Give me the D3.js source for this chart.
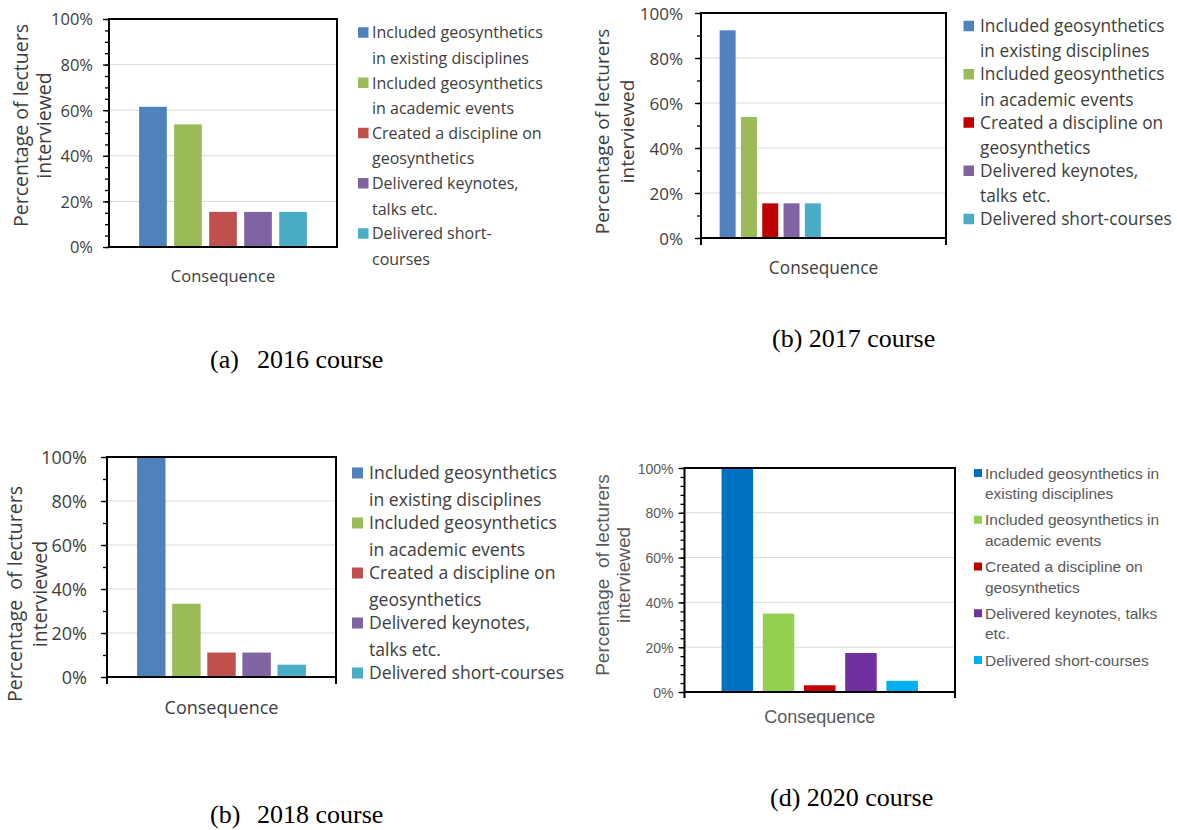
<!DOCTYPE html>
<html>
<head>
<meta charset="utf-8">
<script src="https://cdn.jsdelivr.net/npm/d3@7"></script>
<style>
  html, body { margin: 0; padding: 0; background: #ffffff; }
  svg { display: block; }
</style>
</head>
<body>
<svg id="chart" width="1177" height="830"></svg>
<script>
// ---- data -------------------------------------------------------------
const seriesNames = [
  "Included geosynthetics in existing disciplines",
  "Included geosynthetics in academic events",
  "Created a discipline on geosynthetics",
  "Delivered keynotes, talks etc.",
  "Delivered short-courses"
];

// percentage of lecturers interviewed, one value per series
const values2016 = [61.5, 53.8, 15.4, 15.4, 15.4];
const values2017 = [92.3, 53.8, 15.4, 15.4, 15.4];
const values2018 = [100, 33.3, 11.1, 11.1, 5.6];
const values2020 = [100, 35, 3, 17.4, 5];

const yTicks = [0, 20, 40, 60, 80, 100];
const categoryLabel = "Consequence";

// legend text, already wrapped line by line
const legendWrapA = [
  ["Included geosynthetics", "in existing disciplines"],
  ["Included geosynthetics", "in academic events"],
  ["Created a discipline on", "geosynthetics"],
  ["Delivered keynotes,", "talks etc."],
  ["Delivered short-", "courses"]
];
const legendWrapB = [
  ["Included geosynthetics", "in existing disciplines"],
  ["Included geosynthetics", "in academic events"],
  ["Created a discipline on", "geosynthetics"],
  ["Delivered keynotes,", "talks etc."],
  ["Delivered short-courses"]
];
const legendWrapD = [
  ["Included geosynthetics in", "existing disciplines"],
  ["Included geosynthetics in", "academic events"],
  ["Created a discipline on", "geosynthetics"],
  ["Delivered keynotes, talks", "etc."],
  ["Delivered short-courses"]
];

const yTitle2016 = ["Percentage of lectuers", "interviewed"];
const yTitle2017 = ["Percentage of lecturers", "interviewed"];
const yTitle2018 = ["Percentage  of lecturers", "interviewed"];
const yTitle2020 = ["Percentage  of lecturers", "interviewed"];

const captions = [
  ["(a)", "2016 course"],
  ["(b) 2017 course"],
  ["(b)", "2018 course"],
  ["(d) 2020 course"]
];

// ---- colours ----------------------------------------------------------
const paletteOffice = ["#4F81BD", "#9BBB59", "#C0504D", "#8064A2", "#4BACC6"];
const paletteOffice2 = ["#4F81BD", "#9BBB59", "#C00000", "#8064A2", "#4BACC6"];
const paletteStandard = ["#0070C0", "#92D050", "#C00000", "#7030A0", "#00B0F0"];

// ---- panel layout -----------------------------------------------------
const panels = [
  {
    values: values2016, colors: paletteOffice, legend: legendWrapA, title: yTitle2016, caption: captions[0],
    plot: { x0: 109, x1: 337, y0: 19, y1: 247 }, slots: 5, padInner: 0.21, padOuter: 0.86,
    minorStep: 5, frameExt: 0, font: "'Open Sans', sans-serif", ink: "#3d3d3d",
    tickSize: 16.5, tickGap: 16,
    titleSize: 19.5, titleX: [28, 50.5], titleY: 125.5,
    xlabSize: 16.5, xlabY: 282,
    leg: { sqX: 358, sq: 10.5, textX: 372, size: 16, y0: 32.5, itemStep: 50.25, lineStep: 25.6 },
    cap: { x: 210, x2: 257, y: 368 }
  },
  {
    values: values2017, colors: paletteOffice2, legend: legendWrapB, title: yTitle2017, caption: captions[1],
    plot: { x0: 701, x1: 946, y0: 13, y1: 238 }, slots: 10, padInner: 0.25, padOuter: 0.875,
    minorStep: 10, frameExt: 7, font: "'Open Sans', sans-serif", ink: "#3d3d3d",
    tickSize: 17, tickGap: 18,
    titleSize: 19, titleX: [609, 634], titleY: 131.5,
    xlabSize: 17.3, xlabY: 274,
    leg: { sqX: 963.5, sq: 10.5, textX: 980, size: 17.3, y0: 26, itemStep: 48.25, lineStep: 25.2 },
    cap: { x: 772, y: 347 }
  },
  {
    values: values2018, colors: paletteOffice, legend: legendWrapB, title: yTitle2018, caption: captions[2],
    plot: { x0: 107, x1: 336, y0: 457, y1: 677 }, slots: 5, padInner: 0.19, padOuter: 0.857,
    minorStep: 10, frameExt: 7, font: "'Open Sans', sans-serif", ink: "#3d3d3d",
    tickSize: 18, tickGap: 20,
    titleSize: 19.5, titleX: [22, 46.5], titleY: 594,
    xlabSize: 18, xlabY: 714,
    leg: { sqX: 352, sq: 11, textX: 369, size: 17.6, y0: 473, itemStep: 50, lineStep: 26.5 },
    cap: { x: 210, x2: 257, y: 823 }
  },
  {
    values: values2020, colors: paletteStandard, legend: legendWrapD, title: yTitle2020, caption: captions[3],
    plot: { x0: 684.5, x1: 955, y0: 468, y1: 692 }, slots: 5, padInner: 0.235, padOuter: 0.9,
    minorStep: 4, frameExt: 6, font: "'Liberation Sans', Arial, sans-serif", ink: "#595959",
    tickSize: 14, tickGap: 11,
    titleSize: 19, titleX: [609, 630], titleY: 575,
    xlabSize: 18, xlabY: 723,
    leg: { sqX: 974, sq: 8, textX: 985, size: 15.5, y0: 473, itemStep: 46.75, lineStep: 20.5 },
    cap: { x: 770, y: 806 }
  }
];

const svg = d3.select("#chart");
const pct = d => d + "%";

panels.forEach(p => {
  const g = svg.append("g");
  const { x0, x1, y0, y1 } = p.plot;

  const y = d3.scaleLinear().domain([0, 100]).range([y1, y0]);
  const x = d3.scaleBand()
    .domain(d3.range(p.slots))
    .range([x0, x1])
    .paddingInner(p.padInner)
    .paddingOuter(p.padOuter);

  // horizontal gridlines
  g.append("g")
    .selectAll("line")
    .data(yTicks.filter(t => t > 0 && t < 100))
    .join("line")
    .attr("x1", x0).attr("x2", x1)
    .attr("y1", d => y(d)).attr("y2", d => y(d))
    .attr("stroke", "#d9d9d9").attr("stroke-width", 1);

  // minor ticks
  const minor = g.append("g")
    .attr("transform", `translate(${x0},0)`)
    .call(d3.axisLeft(y).tickValues(d3.range(0, 100 + 1e-9, p.minorStep)).tickSize(4).tickFormat(""));
  minor.select(".domain").remove();
  minor.selectAll("line").attr("stroke", "#000").attr("stroke-width", 1.3);

  // major ticks and labels
  const major = g.append("g")
    .attr("transform", `translate(${x0},0)`)
    .call(d3.axisLeft(y).tickValues(yTicks).tickSize(6).tickPadding(p.tickGap - 6).tickFormat(pct));
  major.select(".domain").remove();
  major.selectAll("line").attr("stroke", "#000").attr("stroke-width", 1.3);
  major.selectAll("text")
    .attr("font-family", p.font)
    .attr("font-size", p.tickSize)
    .attr("fill", p.ink)
    .attr("dy", "0.36em");

  // bars
  g.append("g")
    .selectAll("rect")
    .data(p.values)
    .join("rect")
    .attr("x", (d, i) => x(i))
    .attr("width", x.bandwidth())
    .attr("y", d => y(d))
    .attr("height", d => y(0) - y(d))
    .attr("fill", (d, i) => p.colors[i]);

  // plot frame
  g.append("rect")
    .attr("x", x0).attr("y", y0)
    .attr("width", x1 - x0).attr("height", y1 - y0)
    .attr("fill", "none").attr("stroke", "#000").attr("stroke-width", 2);
  if (p.frameExt > 0) {
    g.append("g").selectAll("line")
      .data([x0, x1])
      .join("line")
      .attr("x1", d => d).attr("x2", d => d)
      .attr("y1", y1).attr("y2", y1 + p.frameExt)
      .attr("stroke", "#000").attr("stroke-width", 2);
  }

  // y axis title (two rotated lines)
  g.append("g").selectAll("text")
    .data(p.title)
    .join("text")
    .attr("transform", (d, i) => `translate(${p.titleX[i]},${p.titleY}) rotate(-90)`)
    .attr("text-anchor", "middle")
    .attr("font-family", p.font)
    .attr("font-size", p.titleSize)
    .attr("fill", p.ink)
    .style("white-space", "pre")
    .text(d => d);

  // category label
  g.append("text")
    .attr("x", (x0 + x1) / 2)
    .attr("y", p.xlabY)
    .attr("text-anchor", "middle")
    .attr("font-family", p.font)
    .attr("font-size", p.xlabSize)
    .attr("fill", p.ink)
    .text(categoryLabel);

  // legend
  const L = p.leg;
  const items = g.append("g").selectAll("g")
    .data(p.legend)
    .join("g")
    .attr("transform", (d, i) => `translate(0,${L.y0 + i * L.itemStep})`);
  items.append("rect")
    .attr("x", L.sqX).attr("y", -L.sq / 2)
    .attr("width", L.sq).attr("height", L.sq)
    .attr("fill", (d, i) => p.colors[i]);
  items.selectAll("text")
    .data(d => d)
    .join("text")
    .attr("x", L.textX)
    .attr("y", (d, j) => j * L.lineStep)
    .attr("dy", "0.36em")
    .attr("font-family", p.font)
    .attr("font-size", L.size)
    .attr("fill", p.ink)
    .text(d => d);

  // caption beneath the panel
  const cap = g.append("text")
    .attr("y", p.cap.y)
    .attr("font-family", "'Liberation Serif', 'Times New Roman', serif")
    .attr("font-size", 26)
    .attr("fill", "#000");
  if (p.caption.length === 2) {
    cap.append("tspan").attr("x", p.cap.x).text(p.caption[0]);
    cap.append("tspan").attr("x", p.cap.x2).text(p.caption[1]);
  } else {
    cap.append("tspan").attr("x", p.cap.x).text(p.caption[0]);
  }
});
</script>
</body>
</html>
